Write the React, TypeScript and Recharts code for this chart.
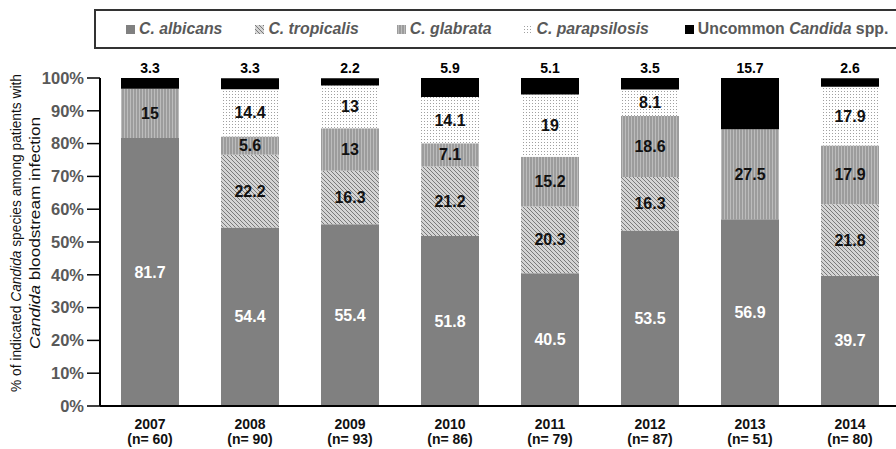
import React from 'react';
import { BarChart, Bar, XAxis, YAxis, Legend, LabelList } from 'recharts';

const years = ['2007', '2008', '2009', '2010', '2011', '2012', '2013', '2014'];
const counts = [60, 90, 93, 86, 79, 87, 51, 80];
const albicans = [81.7, 54.4, 55.4, 51.8, 40.5, 53.5, 56.9, 39.7];
const tropicalis = [null, 22.2, 16.3, 21.2, 20.3, 16.3, null, 21.8];
const glabrata = [15, 5.6, 13, 7.1, 15.2, 18.6, 27.5, 17.9];
const parapsilosis = [null, 14.4, 13, 14.1, 19, 8.1, null, 17.9];
const uncommon = [3.3, 3.3, 2.2, 5.9, 5.1, 3.5, 15.7, 2.6];
const yTicks = [0, 10, 20, 30, 40, 50, 60, 70, 80, 90, 100];

const data = years.map((year, i) => ({
  year,
  n: counts[i],
  albicans: albicans[i],
  tropicalis: tropicalis[i],
  glabrata: glabrata[i],
  parapsilosis: parapsilosis[i],
  uncommon: uncommon[i],
}));

const FONT = "Arial, 'Liberation Sans', sans-serif";

const fills: Record<string, string> = {
  albicans: '#808080',
  tropicalis: 'url(#patTrop)',
  glabrata: 'url(#patGlab)',
  parapsilosis: 'url(#patPara)',
  uncommon: '#000000',
};

const legendItems = [
  { key: 'albicans', label: <i>C. albicans</i>, gap: 0 },
  { key: 'tropicalis', label: <i>C. tropicalis</i>, gap: 33 },
  { key: 'glabrata', label: <i>C. glabrata</i>, gap: 38 },
  { key: 'parapsilosis', label: <i>C. parapsilosis</i>, gap: 32 },
  { key: 'uncommon', label: <span>Uncommon <i>Candida</i> spp.</span>, gap: 36 },
];

const Patterns = () => (
  <svg width={0} height={0} style={{ position: 'absolute', top: 0, left: 0 }}>
    <defs>
      <pattern id="patTrop" patternUnits="userSpaceOnUse" width={4} height={4}>
        <rect width={4} height={4} fill="#d4d4d4" />
        <path d="M-1,3 l2,2 M0,0 l4,4 M3,-1 l2,2" stroke="#7a7a7a" strokeWidth={1} />
      </pattern>
      <pattern id="patGlab" patternUnits="userSpaceOnUse" width={3} height={3}>
        <rect width={3} height={3} fill="#9c9c9c" />
        <rect x={1} width={1} height={3} fill="#bcbcbc" />
      </pattern>
      <pattern id="patPara" patternUnits="userSpaceOnUse" width={3} height={3}>
        <rect width={3} height={3} fill="#ffffff" />
        <rect x={1} y={1} width={1} height={1} fill="#a0a0a0" />
      </pattern>
    </defs>
  </svg>
);

const makeInner = (color: string) => (props: any) => {
  const { x, y, width, height, value } = props;
  if (value == null || value === 0) return null;
  return (
    <text
      x={x + width / 2}
      y={y + height / 2}
      textAnchor="middle"
      dominantBaseline="central"
      fill={color}
      fontFamily={FONT}
      fontWeight="bold"
      fontSize={16}
    >
      {value}
    </text>
  );
};

const topLabel = (props: any) => {
  const { x, y, width, value } = props;
  if (value == null) return null;
  return (
    <text
      x={x + width / 2}
      y={y - 10}
      textAnchor="middle"
      dominantBaseline="central"
      fill="#000"
      fontFamily={FONT}
      fontWeight="bold"
      fontSize={14}
    >
      {value}
    </text>
  );
};

const XTick = (props: any) => {
  const { x, y, payload, index } = props;
  return (
    <g>
      <text x={x} y={y + 23} textAnchor="middle" fill="#111" fontFamily={FONT} fontWeight="bold" fontSize={14}>
        {payload.value}
      </text>
      <text x={x} y={y + 38} textAnchor="middle" fill="#111" fontFamily={FONT} fontWeight="bold" fontSize={14}>
        {`(n= ${counts[index]})`}
      </text>
    </g>
  );
};

const YLabel = (props: any) => {
  const vb = props.viewBox || { x: 0, y: 78, width: 100, height: 328 };
  const cy = vb.y + vb.height / 2 - 9;
  const x1 = 21;
  const x2 = 40;
  return (
    <g>
      <text
        x={x1}
        y={cy}
        transform={`rotate(-90 ${x1} ${cy})`}
        textAnchor="middle"
        fill="#111"
        fontFamily={FONT}
        fontSize={14.5}
        textLength={318}
        lengthAdjust="spacingAndGlyphs"
      >
        % of indicated <tspan fontStyle="italic">Candida</tspan> species among patients with
      </text>
      <text
        x={x2}
        y={cy}
        transform={`rotate(-90 ${x2} ${cy})`}
        textAnchor="middle"
        fill="#111"
        fontFamily={FONT}
        fontSize={14.5}
        textLength={232}
        lengthAdjust="spacingAndGlyphs"
      >
        <tspan fontStyle="italic">Candida</tspan> bloodstream infection
      </text>
    </g>
  );
};

const LegendBox = () => (
  <div
    style={{
      boxSizing: 'border-box',
      width: 830,
      height: 40,
      border: '2px solid #333',
      display: 'flex',
      alignItems: 'center',
      justifyContent: 'flex-start',
      paddingLeft: 30,
      fontFamily: FONT,
      fontWeight: 'bold',
      fontSize: 15.8,
      color: '#595959',
    }}
  >
    {legendItems.map((it) => (
      <div key={it.key} style={{ display: 'flex', alignItems: 'center', marginLeft: it.gap }}>
        <svg width={9} height={9} style={{ marginRight: 4 }}>
          <rect width={9} height={9} fill={fills[it.key]} />
        </svg>
        <span style={{ whiteSpace: 'nowrap' }}>{it.label}</span>
      </div>
    ))}
  </div>
);

export default function App() {
  return (
    <div
      style={{
        position: 'fixed',
        top: 0,
        left: 0,
        width: 896,
        height: 449,
        overflow: 'hidden',
        background: '#fff',
      }}
    >
      <Patterns />
      <BarChart
        width={910}
        height={449}
        data={data}
        margin={{ top: 78, right: 10, bottom: 0, left: 0 }}
        barSize={58}
      >
        <Legend
          layout="horizontal"
          verticalAlign="middle"
          align="center"
          content={() => <LegendBox />}
          wrapperStyle={{ top: 9, left: 94, width: 830, height: 40 }}
        />
        <XAxis
          dataKey="year"
          height={43}
          tickLine={false}
          tickSize={0}
          tickMargin={0}
          axisLine={{ stroke: '#000', strokeWidth: 2 }}
          tick={<XTick />}
          interval={0}
        />
        <YAxis
          width={100}
          domain={[0, 100]}
          allowDataOverflow
          ticks={yTicks}
          tickFormatter={(v: number) => `${v}%`}
          axisLine={{ stroke: '#000', strokeWidth: 2 }}
          tickLine={{ stroke: '#000', strokeWidth: 1.5 }}
          tickSize={13}
          tickMargin={3}
          tick={{ fill: '#595959', fontFamily: FONT, fontWeight: 'bold', fontSize: 16.5 }}
          label={(p: any) => <YLabel {...p} />}
        />
        <Bar dataKey="albicans" stackId="a" fill={fills.albicans} isAnimationActive={false}>
          <LabelList dataKey="albicans" content={makeInner('#ffffff')} />
        </Bar>
        <Bar dataKey="tropicalis" stackId="a" fill={fills.tropicalis} isAnimationActive={false}>
          <LabelList dataKey="tropicalis" content={makeInner('#111')} />
        </Bar>
        <Bar dataKey="glabrata" stackId="a" fill={fills.glabrata} isAnimationActive={false}>
          <LabelList dataKey="glabrata" content={makeInner('#111')} />
        </Bar>
        <Bar dataKey="parapsilosis" stackId="a" fill={fills.parapsilosis} isAnimationActive={false}>
          <LabelList dataKey="parapsilosis" content={makeInner('#111')} />
        </Bar>
        <Bar dataKey="uncommon" stackId="a" fill={fills.uncommon} isAnimationActive={false}>
          <LabelList dataKey="uncommon" content={topLabel} />
        </Bar>
      </BarChart>
    </div>
  );
}
